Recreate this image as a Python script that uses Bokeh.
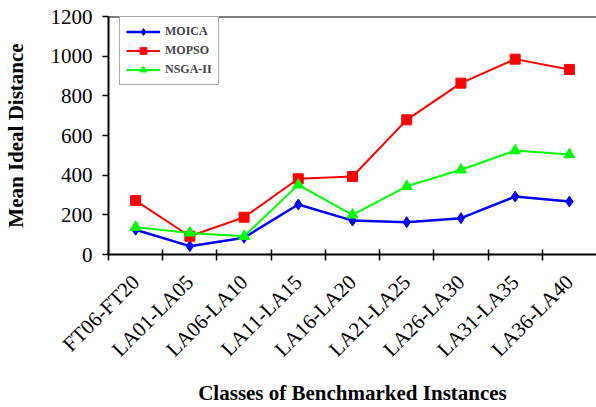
from bokeh.plotting import figure
from bokeh.models import Range1d, FixedTicker, Span
from bokeh.embed import file_html
from bokeh.resources import INLINE
import math

categories = ["FT06-FT20", "LA01-LA05", "LA06-LA10", "LA11-LA15", "LA16-LA20",
              "LA21-LA25", "LA26-LA30", "LA31-LA35", "LA36-LA40"]
moica = [125, 42, 85, 252, 171, 163, 183, 292, 267]
mopso = [272, 92, 188, 382, 393, 679, 864, 985, 933]
nsga2 = [138, 109, 92, 351, 200, 344, 427, 524, 504]
y_ticks = [0, 200, 400, 600, 800, 1000, 1200]

FONT = "Liberation Serif"
n = len(categories)
xs = [i + 0.5 for i in range(n)]
y_max = y_ticks[-1]

p = figure(width=596, height=407, output_backend="svg", toolbar_location=None,
           x_range=Range1d(0, n), y_range=Range1d(0, y_max),
           min_border_left=104, min_border_right=0, min_border_top=16,
           min_border_bottom=153)
p.outline_line_color = None
p.xgrid.visible = False
p.ygrid.visible = False
p.background_fill_color = "white"
p.border_fill_color = "white"

p.line(xs, moica, line_color="#0000FF", line_width=2.5, legend_label="MOICA")
p.scatter(xs, moica, marker="diamond", size=11, fill_color="#0000FF", line_color="#0000FF", legend_label="MOICA")
p.line(xs, mopso, line_color="#FF0000", line_width=2, legend_label="MOPSO")
p.scatter(xs, mopso, marker="square", size=10, fill_color="#FF0000", line_color="#FF0000", legend_label="MOPSO")
p.line(xs, nsga2, line_color="#00FF00", line_width=2, legend_label="NSGA-II")
p.scatter(xs, nsga2, marker="triangle", size=11, fill_color="#00FF00", line_color="#00FF00", legend_label="NSGA-II")

# top border
p.add_layout(Span(location=y_max, dimension="width", line_color="black", line_width=2))

# x axis
xa = p.xaxis[0]
xa.ticker = FixedTicker(ticks=xs, minor_ticks=list(range(n)))
xa.major_label_overrides = {x: c for x, c in zip(xs, categories)}
xa.major_label_orientation = math.pi / 4
xa.major_tick_line_color = None
xa.minor_tick_line_color = "black"
xa.minor_tick_line_width = 1.5
xa.minor_tick_in = 5
xa.minor_tick_out = 6
xa.axis_line_width = 2
xa.axis_line_color = "black"
xa.major_label_text_font = FONT
xa.major_label_text_font_size = "21px"
xa.major_label_text_color = "black"
xa.major_label_standoff = 18
xa.axis_label = "Classes of Benchmarked Instances"
xa.axis_label_text_font = FONT
xa.axis_label_text_font_size = "21px"
xa.axis_label_text_font_style = "bold"
xa.axis_label_text_color = "black"
xa.axis_label_standoff = 8

# y axis
ya = p.yaxis[0]
ya.ticker = FixedTicker(ticks=y_ticks)
ya.minor_tick_line_color = None
ya.major_tick_line_width = 1.5
ya.major_tick_in = 0
ya.major_tick_out = 6
ya.axis_line_width = 2
ya.axis_line_color = "black"
ya.major_label_text_font = FONT
ya.major_label_text_font_size = "21px"
ya.major_label_text_color = "black"
ya.major_label_standoff = 10
ya.axis_label = "Mean Ideal Distance"
ya.axis_label_text_font = FONT
ya.axis_label_text_font_size = "21px"
ya.axis_label_text_font_style = "bold"
ya.axis_label_text_color = "black"
ya.axis_label_standoff = 20

lg = p.legend[0]
lg.location = (11, 169)
lg.label_text_font = FONT
lg.label_text_font_size = "12px"
lg.label_text_font_style = "bold"
lg.glyph_width = 34
lg.glyph_height = 17
lg.label_height = 17
lg.spacing = 2
lg.padding = 6
lg.label_standoff = 5
lg.border_line_color = "#555555"
lg.border_line_width = 1
lg.background_fill_alpha = 1
lg.margin = 0

open("out.html", "w").write(file_html(p, INLINE))
